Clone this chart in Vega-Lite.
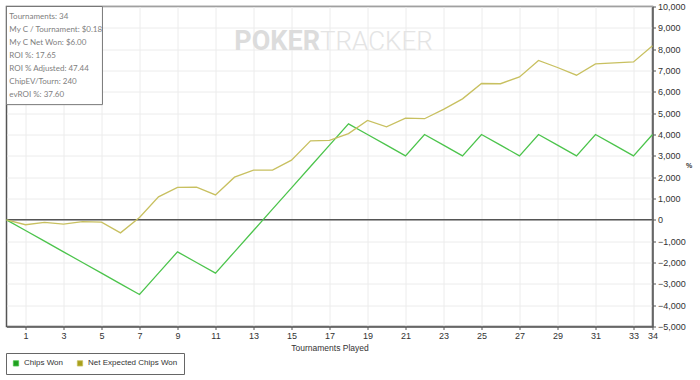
{
  "$schema": "https://vega.github.io/schema/vega-lite/v6.json",
  "width": 646,
  "height": 320,
  "autosize": {"type": "none"},
  "padding": {"left": 6.5, "top": 6.5, "right": 47.5, "bottom": 53.5},
  "background": "white",
  "config": {
    "font": "Liberation Sans",
    "view": {"stroke": "#555", "strokeWidth": 1.5},
    "axis": {
      "domainColor": "#555",
      "domainWidth": 1.5,
      "gridColor": "#ececec",
      "gridWidth": 1,
      "tickColor": "#555",
      "labelColor": "#333",
      "labelFontSize": 9,
      "titleColor": "#333",
      "titleFontSize": 8.5,
      "titleFontWeight": "normal"
    }
  },
  "datasets": {
    "series": [
      {"t": 0, "series": "Chips Won", "v": 0},
      {"t": 1, "series": "Chips Won", "v": -500},
      {"t": 2, "series": "Chips Won", "v": -1000},
      {"t": 3, "series": "Chips Won", "v": -1500},
      {"t": 4, "series": "Chips Won", "v": -2000},
      {"t": 5, "series": "Chips Won", "v": -2500},
      {"t": 6, "series": "Chips Won", "v": -3000},
      {"t": 7, "series": "Chips Won", "v": -3500},
      {"t": 8, "series": "Chips Won", "v": -2500},
      {"t": 9, "series": "Chips Won", "v": -1500},
      {"t": 10, "series": "Chips Won", "v": -2000},
      {"t": 11, "series": "Chips Won", "v": -2500},
      {"t": 12, "series": "Chips Won", "v": -1500},
      {"t": 13, "series": "Chips Won", "v": -500},
      {"t": 14, "series": "Chips Won", "v": 500},
      {"t": 15, "series": "Chips Won", "v": 1500},
      {"t": 16, "series": "Chips Won", "v": 2500},
      {"t": 17, "series": "Chips Won", "v": 3500},
      {"t": 18, "series": "Chips Won", "v": 4500},
      {"t": 19, "series": "Chips Won", "v": 4000},
      {"t": 20, "series": "Chips Won", "v": 3500},
      {"t": 21, "series": "Chips Won", "v": 3000},
      {"t": 22, "series": "Chips Won", "v": 4000},
      {"t": 23, "series": "Chips Won", "v": 3500},
      {"t": 24, "series": "Chips Won", "v": 3000},
      {"t": 25, "series": "Chips Won", "v": 4000},
      {"t": 26, "series": "Chips Won", "v": 3500},
      {"t": 27, "series": "Chips Won", "v": 3000},
      {"t": 28, "series": "Chips Won", "v": 4000},
      {"t": 29, "series": "Chips Won", "v": 3500},
      {"t": 30, "series": "Chips Won", "v": 3000},
      {"t": 31, "series": "Chips Won", "v": 4000},
      {"t": 32, "series": "Chips Won", "v": 3500},
      {"t": 33, "series": "Chips Won", "v": 3000},
      {"t": 34, "series": "Chips Won", "v": 4000},
      {"t": 0, "series": "Net Expected Chips Won", "v": 0},
      {"t": 1, "series": "Net Expected Chips Won", "v": -230},
      {"t": 2, "series": "Net Expected Chips Won", "v": -120},
      {"t": 3, "series": "Net Expected Chips Won", "v": -200},
      {"t": 4, "series": "Net Expected Chips Won", "v": -80},
      {"t": 5, "series": "Net Expected Chips Won", "v": -110},
      {"t": 6, "series": "Net Expected Chips Won", "v": -610},
      {"t": 7, "series": "Net Expected Chips Won", "v": 110},
      {"t": 8, "series": "Net Expected Chips Won", "v": 1080},
      {"t": 9, "series": "Net Expected Chips Won", "v": 1520},
      {"t": 10, "series": "Net Expected Chips Won", "v": 1530},
      {"t": 11, "series": "Net Expected Chips Won", "v": 1170},
      {"t": 12, "series": "Net Expected Chips Won", "v": 2000},
      {"t": 13, "series": "Net Expected Chips Won", "v": 2330},
      {"t": 14, "series": "Net Expected Chips Won", "v": 2330},
      {"t": 15, "series": "Net Expected Chips Won", "v": 2800},
      {"t": 16, "series": "Net Expected Chips Won", "v": 3700},
      {"t": 17, "series": "Net Expected Chips Won", "v": 3720},
      {"t": 18, "series": "Net Expected Chips Won", "v": 4040},
      {"t": 19, "series": "Net Expected Chips Won", "v": 4660},
      {"t": 20, "series": "Net Expected Chips Won", "v": 4360},
      {"t": 21, "series": "Net Expected Chips Won", "v": 4770},
      {"t": 22, "series": "Net Expected Chips Won", "v": 4740},
      {"t": 23, "series": "Net Expected Chips Won", "v": 5180},
      {"t": 24, "series": "Net Expected Chips Won", "v": 5670},
      {"t": 25, "series": "Net Expected Chips Won", "v": 6390},
      {"t": 26, "series": "Net Expected Chips Won", "v": 6380},
      {"t": 27, "series": "Net Expected Chips Won", "v": 6700},
      {"t": 28, "series": "Net Expected Chips Won", "v": 7470},
      {"t": 29, "series": "Net Expected Chips Won", "v": 7140},
      {"t": 30, "series": "Net Expected Chips Won", "v": 6780},
      {"t": 31, "series": "Net Expected Chips Won", "v": 7310},
      {"t": 32, "series": "Net Expected Chips Won", "v": 7360},
      {"t": 33, "series": "Net Expected Chips Won", "v": 7400},
      {"t": 34, "series": "Net Expected Chips Won", "v": 8160}
    ]
  },
  "encoding": {
    "x": {
      "field": "t",
      "type": "quantitative",
      "scale": {"domain": [0, 34], "nice": false, "zero": false},
      "axis": {
        "values": [1, 3, 5, 7, 9, 11, 13, 15, 17, 19, 21, 23, 25, 27, 29, 31, 33, 34],
        "title": "Tournaments Played",
        "tickSize": 3,
        "labelPadding": 2,
        "labelFlush": false,
        "labelOverlap": false,
        "titlePadding": 3,
        "grid": true
      }
    },
    "y": {
      "field": "v",
      "type": "quantitative",
      "scale": {"domain": [-5000, 10000], "nice": false},
      "axis": {
        "orient": "right",
        "values": [-5000, -4000, -3000, -2000, -1000, 0, 1000, 2000, 3000, 4000, 5000, 6000, 7000, 8000, 9000, 10000],
        "format": ",.0f",
        "tickSize": 3,
        "labelPadding": 2,
        "labelOverlap": false,
        "labelFlush": false,
        "title": "%",
        "titleAngle": 0,
        "titleFontSize": 7,
        "titleFontWeight": "bold",
        "titleX": 36,
        "titleY": 162,
        "grid": true
      }
    }
  },
  "layer": [
    {
      "data": {"values": [{"t": 16.5, "v": 7950, "word": "POKER"}]},
      "mark": {"type": "text", "align": "right", "baseline": "alphabetic", "font": "Roboto", "fontSize": 27, "fontWeight": "bold", "color": "#dcdcdc"},
      "encoding": {
        "text": {"field": "word"}
      }
    },
    {
      "data": {"values": [{"t": 16.5, "v": 7950, "word": "TRACKER"}]},
      "mark": {"type": "text", "align": "left", "baseline": "alphabetic", "font": "Roboto", "fontSize": 26, "fontWeight": 300, "color": "#e4e4e4"},
      "encoding": {
        "text": {"field": "word"}
      }
    },
    {
      "data": {"values": [{"t": 0, "t2": 34, "v": 0}]},
      "mark": {"type": "rule", "color": "#555", "strokeWidth": 1.5},
      "encoding": {
        "x2": {"field": "t2"}
      }
    },
    {
      "data": {"name": "series"},
      "mark": {"type": "line", "strokeWidth": 1.3},
      "encoding": {
        "color": {
          "field": "series",
          "type": "nominal",
          "scale": {"domain": ["Chips Won", "Net Expected Chips Won"], "range": ["#4cc44c", "#c8c060"]},
          "legend": {
            "title": null,
            "orient": "none",
            "legendX": -0.5,
            "legendY": 346.5,
            "direction": "horizontal",
            "symbolType": "square",
            "symbolSize": 28,
            "symbolStrokeWidth": 1,
            "labelFontSize": 8,
            "labelColor": "#333",
            "labelOffset": 4,
            "columnPadding": 12,
            "padding": 6,
            "strokeColor": "#666",
            "fillColor": "white",
            "encode": {
              "symbols": {
                "update": {
                  "fill": [{"test": "datum.value === 'Chips Won'", "value": "#1f9f1f"}, {"value": "#a8a01c"}],
                  "stroke": {"value": "#333"},
                  "strokeWidth": {"value": 0.8},
                  "opacity": {"value": 1}
                }
              }
            }
          }
        }
      }
    },
    {
      "data": {"values": [{"t": 0, "t2": 5.05, "v": 10000, "v2": 5400}]},
      "mark": {"type": "rect", "fill": "white", "stroke": "#777", "strokeWidth": 1},
      "encoding": {
        "x2": {"field": "t2"},
        "y2": {"field": "v2"}
      }
    },
    {
      "data": {"values": [{"t": 0.15, "v": 9420, "info": "Tournaments: 34\nMy C / Tournament: $0.18\nMy C Net Won: $6.00\nROI %: 17.65\nROI % Adjusted: 47.44\nChipEV/Tourn: 240\nevROI %: 37.60"}]},
      "mark": {"type": "text", "align": "left", "baseline": "alphabetic", "lineBreak": "\n", "lineHeight": 13, "font": "Lato", "fontSize": 8, "color": "#808080"},
      "encoding": {
        "text": {"field": "info"}
      }
    }
  ]
}
